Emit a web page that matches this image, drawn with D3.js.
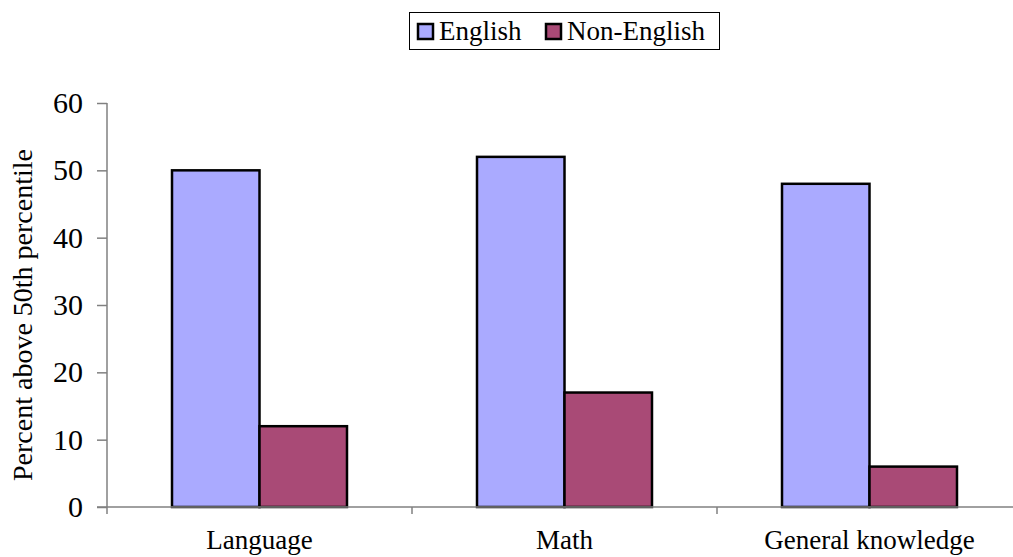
<!DOCTYPE html>
<html>
<head>
<meta charset="utf-8">
<script src="https://cdn.jsdelivr.net/npm/d3@7"></script>
<style>
  body { margin: 0; background: #fff; }
  svg text { font-family: "Liberation Serif", "Times New Roman", Times, serif !important; fill: #000; }
</style>
</head>
<body>
<div id="chart"></div>
<script>
// data
var categories = ["Language", "Math", "General knowledge"];
var series = ["English", "Non-English"];
var english = [50, 52, 48];
var nonEnglish = [12, 17, 6];
var yTicks = [0, 10, 20, 30, 40, 50, 60];
var colors = ["#aaaaff", "#a94a76"];

var values = [english, nonEnglish];

var svg = d3.select("#chart").append("svg")
    .attr("width", 1013)
    .attr("height", 557);

var plotLeft = 107, plotTop = 103, plotBottom = 507, step = 305;

var x0 = d3.scaleBand()
    .domain(categories)
    .range([plotLeft, plotLeft + step * categories.length]);

var x1 = d3.scaleBand()
    .domain(series)
    .range([0, x0.bandwidth()])
    .paddingOuter(0.743);

var y = d3.scaleLinear()
    .domain([0, 60])
    .range([plotBottom, plotTop]);

// y axis
var yAxis = svg.append("g")
    .attr("transform", "translate(" + plotLeft + ",0)")
    .call(d3.axisLeft(y).tickValues(yTicks).tickSize(10).tickSizeOuter(0).tickPadding(14));
yAxis.attr("font-family", null);
yAxis.select(".domain").attr("stroke", "#808080").attr("stroke-width", 1.5)
    .attr("d", "M0," + plotTop + "V" + (plotBottom + 7));
yAxis.selectAll(".tick line").attr("stroke", "#808080").attr("stroke-width", 1.5);
yAxis.selectAll(".tick text").style("font-size", "30px");

// bars
var groups = svg.selectAll(".grp")
    .data(categories)
    .enter().append("g")
    .attr("transform", function(d) { return "translate(" + x0(d) + ",0)"; });

groups.selectAll("rect")
    .data(function(d, i) { return series.map(function(s, j) { return {s: s, v: values[j][i], j: j}; }); })
    .enter().append("rect")
    .attr("x", function(d) { return x1(d.s); })
    .attr("y", function(d) { return y(d.v); })
    .attr("width", x1.bandwidth())
    .attr("height", function(d) { return plotBottom - y(d.v); })
    .attr("fill", function(d) { return colors[d.j]; })
    .attr("stroke", "#000")
    .attr("stroke-width", 2.5);

// x axis
var xAxis = svg.append("g")
    .attr("transform", "translate(0," + plotBottom + ")")
    .call(d3.axisBottom(x0).tickSize(0).tickPadding(23));
xAxis.attr("font-family", null);
xAxis.select(".domain").attr("stroke", "#808080").attr("stroke-width", 1.5)
    .attr("d", "M" + (plotLeft - 10) + ",0H1013");
xAxis.selectAll(".tick text").style("font-size", "27px");

// category separators
svg.selectAll(".sep")
    .data(categories)
    .enter().append("line")
    .attr("x1", function(d) { return x0(d) + x0.step(); })
    .attr("x2", function(d) { return x0(d) + x0.step(); })
    .attr("y1", plotBottom)
    .attr("y2", plotBottom + 7)
    .attr("stroke", "#808080")
    .attr("stroke-width", 1.5);

// y label
svg.append("text")
    .attr("transform", "translate(32,315) rotate(-90)")
    .attr("text-anchor", "middle")
    .style("font-size", "28px")
    .text("Percent above 50th percentile");

// legend
var legend = svg.append("g");
legend.append("rect")
    .attr("x", 409.5).attr("y", 12.5)
    .attr("width", 310).attr("height", 37)
    .attr("fill", "#fff").attr("stroke", "#000").attr("stroke-width", 1);

var legendX = [418, 546];
var items = legend.selectAll(".item")
    .data(series)
    .enter().append("g")
    .attr("transform", function(d, i) { return "translate(" + legendX[i] + ",24)"; });
items.append("rect")
    .attr("width", 15).attr("height", 15)
    .attr("fill", function(d, i) { return colors[i]; })
    .attr("stroke", "#000").attr("stroke-width", 2.5);
items.append("text")
    .attr("x", 21).attr("y", 16)
    .style("font-size", "27px")
    .text(function(d) { return d; });
</script>
</body>
</html>
